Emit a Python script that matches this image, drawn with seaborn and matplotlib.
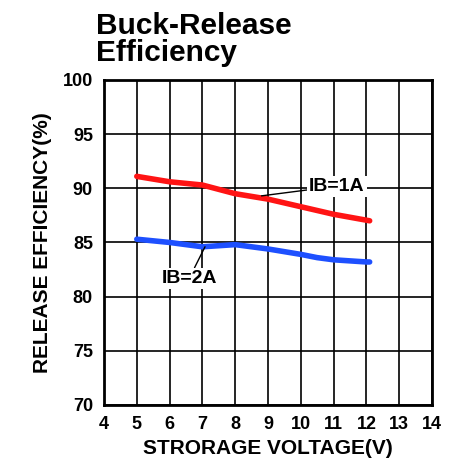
import numpy as np
import pandas as pd
import matplotlib.pyplot as plt
import seaborn as sns

# data
volts_1a = [5, 6, 7, 8, 9, 10, 11, 12.1]
eff_1a = [91.1, 90.6, 90.3, 89.5, 89.0, 88.3, 87.6, 87.0]
volts_2a = [5, 6, 7, 8, 9, 10, 10.5, 11, 12, 12.1]
eff_2a = [85.3, 85.0, 84.6, 84.8, 84.4, 83.9, 83.6, 83.4, 83.2, 83.2]
xticks = list(range(4, 15))
yticks = list(range(70, 101, 5))

df = pd.concat([
    pd.DataFrame({'v': volts_1a, 'eff': eff_1a, 'ib': 'IB=1A'}),
    pd.DataFrame({'v': volts_2a, 'eff': eff_2a, 'ib': 'IB=2A'}),
])

sns.set_style('white', {'text.color': 'black', 'axes.labelcolor': 'black',
                        'xtick.color': 'black', 'ytick.color': 'black'})
plt.rcParams['font.family'] = ['Liberation Sans', 'DejaVu Sans']

fig = plt.figure(figsize=(4.63, 4.73), dpi=100)
ax = fig.add_axes([0.2246, 0.1438, 0.7084, 0.6872])

sns.lineplot(data=df, x='v', y='eff', hue='ib', palette=['#ff1414', '#1e50ff'],
             linewidth=4, legend=False, ax=ax, zorder=3)

ax.set_xlim(4, 14)
ax.set_ylim(70, 100)
ax.set_xticks(xticks)
ax.set_yticks(yticks)
ax.grid(True, color='black', linewidth=1.2)
ax.set_axisbelow(True)
for s in ax.spines.values():
    s.set_color('black')
    s.set_linewidth(2)
ax.tick_params(axis='both', length=0, pad=8, labelsize=13)
for lab in ax.get_xticklabels() + ax.get_yticklabels():
    lab.set_fontweight('bold')

ax.set_xlabel('STRORAGE VOLTAGE(V)', fontsize=15, fontweight='bold', labelpad=4)
ax.set_ylabel('RELEASE EFFICIENCY(%)', fontsize=15, fontweight='bold', labelpad=8)

fig.text(0.207, 0.975, 'Buck-Release\nEfficiency', fontsize=21.5, fontweight='bold',
         va='top', ha='left', linespacing=0.95)

ax.annotate('IB=1A', xy=(8.8, 89.3), xytext=(11.1, 90.2), fontsize=14,
            fontweight='bold', ha='center', va='center', zorder=5,
            bbox=dict(boxstyle='square,pad=0.1', fc='white', ec='none'),
            arrowprops=dict(arrowstyle='-', color='black', lw=1, shrinkA=0, shrinkB=0))
ax.annotate('IB=2A', xy=(7.08, 84.6), xytext=(6.6, 81.7), fontsize=14,
            fontweight='bold', ha='center', va='center', zorder=5,
            bbox=dict(boxstyle='square,pad=0.1', fc='white', ec='none'),
            arrowprops=dict(arrowstyle='-', color='black', lw=1, shrinkA=0, shrinkB=0))

plt.savefig('out.png', dpi=100)
